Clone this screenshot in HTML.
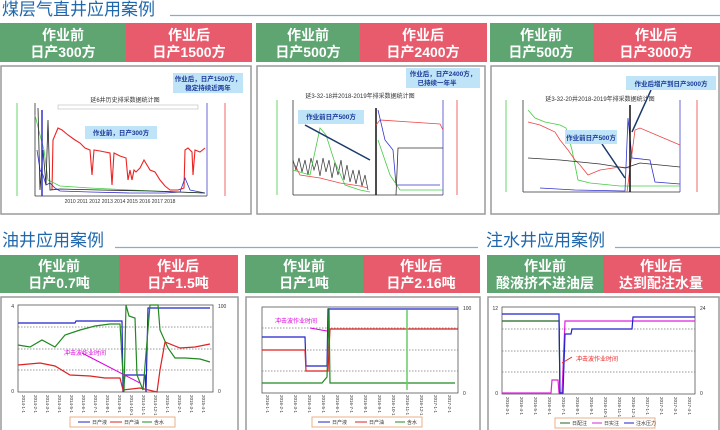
<!DOCTYPE html>
<html><head><meta charset="utf-8"><style>
html,body{margin:0;padding:0;background:#fff;width:720px;height:430px;overflow:hidden}
svg{display:block;font-family:"Liberation Sans","Noto Sans CJK SC",sans-serif}
.h{fill:#fff;font-weight:bold;font-size:14px;text-anchor:middle}
.t{fill:#1f68ad;font-size:17px}
.s{font-size:5px;fill:#333}
.cb{fill:#bfe3f7}
.ct{fill:#1a3a9a;font-size:6.5px;font-weight:bold;text-anchor:middle}
.d{font-size:4.5px;fill:#333}
</style></head><body>
<svg width="720" height="430" viewBox="0 0 720 430">
<text class="t" x="2" y="15">煤层气直井应用案例</text>
<line x1="170" y1="15.5" x2="720" y2="15.5" stroke="#7fb0d0" stroke-width="1.2"/>
<text class="t" x="2" y="246">油井应用案例</text>
<line x1="115" y1="247.5" x2="478" y2="247.5" stroke="#7fb0d0" stroke-width="1.2"/>
<text class="t" x="486" y="246">注水井应用案例</text>
<line x1="615" y1="247.5" x2="720" y2="247.5" stroke="#7fb0d0" stroke-width="1.2"/>

<rect x="0" y="23" width="126" height="39" fill="#5ea572"/><rect x="126" y="23" width="126" height="39" fill="#e85b6c"/>
<text class="h" x="63" y="40">作业前</text><text class="h" x="63" y="57">日产300方</text>
<text class="h" x="189" y="40">作业后</text><text class="h" x="189" y="57">日产1500方</text>
<rect x="256" y="23" width="104" height="39" fill="#5ea572"/><rect x="360" y="23" width="127" height="39" fill="#e85b6c"/>
<text class="h" x="308" y="40">作业前</text><text class="h" x="308" y="57">日产500方</text>
<text class="h" x="423" y="40">作业后</text><text class="h" x="423" y="57">日产2400方</text>
<rect x="490" y="23" width="103" height="39" fill="#5ea572"/><rect x="593" y="23" width="127" height="39" fill="#e85b6c"/>
<text class="h" x="541" y="40">作业前</text><text class="h" x="541" y="57">日产500方</text>
<text class="h" x="656" y="40">作业后</text><text class="h" x="656" y="57">日产3000方</text>

<rect x="0" y="255" width="119" height="38" fill="#5ea572"/><rect x="119" y="255" width="119" height="38" fill="#e85b6c"/>
<text class="h" x="59" y="271">作业前</text><text class="h" x="59" y="288">日产0.7吨</text>
<text class="h" x="178" y="271">作业后</text><text class="h" x="178" y="288">日产1.5吨</text>
<rect x="245" y="255" width="118" height="38" fill="#5ea572"/><rect x="363" y="255" width="117" height="38" fill="#e85b6c"/>
<text class="h" x="304" y="271">作业前</text><text class="h" x="304" y="288">日产1吨</text>
<text class="h" x="421" y="271">作业后</text><text class="h" x="421" y="288">日产2.16吨</text>
<rect x="487" y="255" width="116" height="38" fill="#5ea572"/><rect x="603" y="255" width="117" height="38" fill="#e85b6c"/>
<text class="h" x="545" y="271">作业前</text><text class="h" x="545" y="288">酸液挤不进油层</text>
<text class="h" x="661" y="271">作业后</text><text class="h" x="661" y="288">达到配注水量</text>

<g fill="none" stroke="#9a9a9a" stroke-width="1.5">
<rect x="1" y="66" width="250" height="148"/><rect x="257" y="66" width="228" height="148"/><rect x="491" y="66" width="228" height="148"/>
<rect x="1" y="297" width="237" height="135"/><rect x="246" y="297" width="234" height="135"/><rect x="488" y="297" width="231" height="135"/>
</g>

<!-- chart 1 -->
<text x="125" y="102" font-size="6" text-anchor="middle" fill="#333">延6井历史排采数据统计图</text>
<rect x="58" y="105" width="140" height="4" fill="none" stroke="#aaa" stroke-width="0.5"/>
<g stroke-width="0.8" fill="none">
<line x1="17" y1="103" x2="17" y2="196" stroke="#4c4"/>
<line x1="35" y1="103" x2="35" y2="196" stroke="#333"/>
<line x1="207" y1="103" x2="207" y2="196" stroke="#44c"/>
<line x1="225" y1="103" x2="225" y2="196" stroke="#e44"/>
<line x1="35" y1="196" x2="207" y2="196" stroke="#333"/>
<polyline stroke="#e22" stroke-width="1.1" points="52,190 53,140 58,128 62,130 68,135 75,140 80,143 85,148 90,150 92,175 94,150 100,151 105,152 110,153 112,185 114,153 120,156 126,158 128,180 130,170 132,180 134,170 136,172 140,168 144,160 147,165 150,170 155,172 160,180 165,186 170,190 178,190 184,188 185,150 188,148 192,152 193,175 195,150 200,152 205,148"/>
<polyline stroke="#33c" points="37,150 40,170 43,175 46,185 50,183 55,188 60,191 90,192 130,193 165,193 180,192 185,178 190,190 205,193"/>
<polyline stroke="#4c4" points="35,115 40,135 44,150 48,180 60,186 90,188 130,190 180,192 205,193"/>
<polyline stroke="#222" points="38,108 40,190 43,150 46,185 48,120 50,190 60,189 100,190 150,191 205,193"/>
<line x1="42" y1="110" x2="42" y2="196" stroke="#33c" stroke-width="1.5"/>
</g>
<rect class="cb" x="173" y="73" width="70" height="20"/>
<text class="ct" x="208" y="81">作业后，日产1500方，</text><text class="ct" x="208" y="90">稳定持续近两年</text>
<rect class="cb" x="85" y="126" width="72" height="13"/>
<text class="ct" x="121" y="135">作业前，日产300方</text>
<text x="120" y="203" class="s" text-anchor="middle" font-size="4">2010    2011    2012    2013    2014    2015    2016    2017    2018</text>

<!-- chart 2 -->
<text x="360" y="98" font-size="6" text-anchor="middle" fill="#333">延3-32-18井2018-2019年排采数据统计图</text>
<g stroke-width="0.8" fill="none">
<line x1="277" y1="100" x2="277" y2="195" stroke="#4c4"/>
<line x1="293" y1="100" x2="293" y2="195" stroke="#333"/>
<line x1="443" y1="100" x2="443" y2="195" stroke="#44c"/>
<line x1="457" y1="100" x2="457" y2="195" stroke="#e44"/>
<line x1="293" y1="195" x2="443" y2="195" stroke="#333"/>
<polyline stroke="#333" stroke-width="0.7" points="293,160 296,170 299,158 302,172 305,160 308,175 311,158 314,170 317,160 320,176 323,158 326,172 329,160 332,178 335,162 338,175 341,160 344,180 347,165 350,182 353,170 356,184 359,170 362,186 365,175 368,190"/>
<polyline stroke="#4c4" points="293,170 310,175 320,128 326,135 334,160 345,185 360,190 370,192"/>
<polyline stroke="#e44" points="295,165 300,175 320,178 340,183 360,186 368,188"/>
<line x1="376" y1="108" x2="376" y2="195" stroke="#111" stroke-width="1.5"/>
<polyline stroke="#e44" points="376,125 380,120 410,122 440,124 443,130"/>
<polyline stroke="#33c" points="378,110 385,140 393,150 396,185 440,185"/>
<polyline stroke="#4c4" points="378,140 390,175 400,190 443,190"/>
<polyline stroke="#333" points="396,195 398,148 443,148"/>
<line x1="414" y1="87" x2="420" y2="81" stroke="#1a3a6a" stroke-width="1.5"/>
<line x1="305" y1="125" x2="370" y2="160" stroke="#1a3a6a" stroke-width="1.5"/>
</g>
<rect class="cb" x="406" y="68" width="74" height="20"/>
<text class="ct" x="443" y="76">作业后，日产2400方，</text><text class="ct" x="437" y="85">已持续一年半</text>
<rect class="cb" x="298" y="110" width="66" height="14"/>
<text class="ct" x="331" y="119">作业前日产500方</text>

<!-- chart 3 -->
<text x="600" y="101" font-size="6" text-anchor="middle" fill="#333">延3-32-20井2018-2019年排采数据统计图</text>
<g stroke-width="0.8" fill="none">
<line x1="506" y1="100" x2="506" y2="192" stroke="#4c4"/>
<line x1="523" y1="100" x2="523" y2="192" stroke="#333"/>
<line x1="680" y1="100" x2="680" y2="192" stroke="#44c"/>
<line x1="697" y1="100" x2="697" y2="192" stroke="#e44"/>
<line x1="523" y1="192" x2="680" y2="192" stroke="#333"/>
<polyline stroke="#4c4" points="528,110 535,118 545,122 560,125 566,128 572,150 578,180 590,183 620,186 680,186"/>
<polyline stroke="#e44" points="528,122 540,125 555,132 560,140 568,150 575,160 580,165 588,175 600,170 620,167 630,168 627,192 635,130 640,128 680,145"/>
<polyline stroke="#333" points="528,158 560,160 600,164 625,168 640,163 680,167"/>
<polyline stroke="#33c" points="540,188 575,190 625,191 628,118 632,158 650,160 655,182 680,184"/>
<line x1="630" y1="105" x2="630" y2="192" stroke="#111" stroke-width="1.5"/>
<line x1="637" y1="90" x2="643" y2="80" stroke="#1a3a6a" stroke-width="1.5"/>
<line x1="632" y1="132" x2="651" y2="90" stroke="#1a3a6a" stroke-width="1.5"/>
<line x1="602" y1="144" x2="625" y2="178" stroke="#1a3a6a" stroke-width="1.5"/>
</g>
<rect class="cb" x="626" y="76" width="90" height="14"/>
<text class="ct" x="671" y="86">作业后增产到日产3000方</text>
<rect class="cb" x="565" y="130" width="52" height="14"/>
<text class="ct" x="591" y="140">作业前日产500方</text>

<!-- chart A -->
<g stroke-width="0.8" fill="none">
<rect x="18" y="305" width="195" height="87" stroke="#555"/>
<line x1="18" y1="327" x2="213" y2="327" stroke="#777" stroke-dasharray="1.5,1.5"/>
<line x1="18" y1="349" x2="213" y2="349" stroke="#777" stroke-dasharray="1.5,1.5"/>
<line x1="18" y1="370" x2="213" y2="370" stroke="#777" stroke-dasharray="1.5,1.5"/>
<polyline stroke="#22c" stroke-width="1.2" points="18,323 75,323 76,321 122,321 123,392 125,375 145,375 146,392 148,308 210,308"/>
<polyline stroke="#d22" stroke-width="1.2" points="18,365 40,363 55,366 70,375 90,376 105,378 120,378 123,390 140,388 157,392 160,370 165,342 180,348 195,347 210,344"/>
<polyline stroke="#282" stroke-width="1.2" points="18,345 30,347 42,340 55,347 65,335 80,330 95,326 110,324 120,324 124,392 126,305 129,316 135,318 137,375 143,390 150,305 158,305 160,330 168,348 175,358 185,358 200,359 210,362"/>
<line x1="82" y1="353" x2="140" y2="383" stroke="#d0d" stroke-width="1"/>
</g>
<text x="64" y="355" font-size="6" fill="#d0d">冲击波作业时间</text>
<text x="14" y="308" class="s" text-anchor="end">4</text><text x="14" y="393" class="s" text-anchor="end">0</text>
<text x="218" y="308" class="s">100</text><text x="218" y="393" class="s">0</text>
<g class="d">
<text transform="translate(22,395) rotate(90)">2014-1-1</text><text transform="translate(34,395) rotate(90)">2014-2-1</text>
<text transform="translate(46,395) rotate(90)">2014-3-1</text><text transform="translate(58,395) rotate(90)">2014-4-1</text>
<text transform="translate(70,395) rotate(90)">2014-5-1</text><text transform="translate(82,395) rotate(90)">2014-6-1</text>
<text transform="translate(94,395) rotate(90)">2014-7-1</text><text transform="translate(106,395) rotate(90)">2014-8-1</text>
<text transform="translate(118,395) rotate(90)">2014-9-1</text><text transform="translate(130,395) rotate(90)">2014-10-1</text>
<text transform="translate(142,395) rotate(90)">2014-11-1</text><text transform="translate(154,395) rotate(90)">2014-12-1</text>
<text transform="translate(166,395) rotate(90)">2015-1-1</text><text transform="translate(178,395) rotate(90)">2015-2-1</text>
<text transform="translate(190,395) rotate(90)">2015-3-1</text><text transform="translate(202,395) rotate(90)">2015-4-1</text>
</g>
<rect x="70" y="417" width="105" height="10" fill="none" stroke="#e9b08a"/>
<line x1="78" y1="422" x2="90" y2="422" stroke="#22c"/><line x1="110" y1="422" x2="122" y2="422" stroke="#d22"/><line x1="142" y1="422" x2="152" y2="422" stroke="#282"/>
<text x="92" y="424" class="s">日产液</text><text x="124" y="424" class="s">日产油</text><text x="154" y="424" class="s">含水</text>

<!-- chart B -->
<g stroke-width="0.8" fill="none">
<rect x="262" y="307" width="196" height="86" stroke="#555"/>
<line x1="262" y1="328" x2="458" y2="328" stroke="#777" stroke-dasharray="1.5,1.5"/>
<line x1="262" y1="350" x2="458" y2="350" stroke="#777" stroke-dasharray="1.5,1.5"/>
<line x1="262" y1="371" x2="458" y2="371" stroke="#777" stroke-dasharray="1.5,1.5"/>
<polyline stroke="#22c" stroke-width="1.2" points="262,337 305,337 306,366 327,366 328,309 458,309"/>
<polyline stroke="#d22" stroke-width="1.2" points="262,350 305,350 306,371 328,371 330,329 458,329"/>
<polyline stroke="#282" stroke-width="1.2" points="262,383 322,383 327,377 329,308 330,383 455,383"/>
<line x1="407" y1="310" x2="407" y2="390" stroke="#6c6" stroke-width="1.5"/>
<line x1="310" y1="328" x2="327" y2="331" stroke="#d0d" stroke-width="1"/>
</g>
<text x="275" y="323" font-size="6" fill="#d0d">冲击波作业时间</text>
<g class="d">
<text transform="translate(266,395) rotate(90)">2016-1-1</text><text transform="translate(280,395) rotate(90)">2016-2-1</text>
<text transform="translate(294,395) rotate(90)">2016-3-1</text><text transform="translate(308,395) rotate(90)">2016-4-1</text>
<text transform="translate(322,395) rotate(90)">2016-5-1</text><text transform="translate(336,395) rotate(90)">2016-6-1</text>
<text transform="translate(350,395) rotate(90)">2016-7-1</text><text transform="translate(364,395) rotate(90)">2016-8-1</text>
<text transform="translate(378,395) rotate(90)">2016-9-1</text><text transform="translate(392,395) rotate(90)">2016-10-1</text>
<text transform="translate(406,395) rotate(90)">2016-11-1</text><text transform="translate(420,395) rotate(90)">2016-12-1</text>
<text transform="translate(434,395) rotate(90)">2017-1-1</text><text transform="translate(448,395) rotate(90)">2017-2-1</text>
</g>
<rect x="312" y="417" width="110" height="10" fill="none" stroke="#e9b08a"/>
<line x1="318" y1="422" x2="330" y2="422" stroke="#22c"/><line x1="355" y1="422" x2="367" y2="422" stroke="#d22"/><line x1="395" y1="422" x2="405" y2="422" stroke="#282"/>
<text x="332" y="424" class="s">日产液</text><text x="369" y="424" class="s">日产油</text><text x="407" y="424" class="s">含水</text>
<text x="463" y="310" class="s">100</text><text x="463" y="395" class="s">0</text>

<!-- chart C -->
<g stroke-width="0.8" fill="none">
<rect x="502" y="307" width="193" height="87" stroke="#555"/>
<line x1="502" y1="329" x2="695" y2="329" stroke="#777" stroke-dasharray="1.5,1.5"/>
<line x1="502" y1="351" x2="695" y2="351" stroke="#777" stroke-dasharray="1.5,1.5"/>
<line x1="502" y1="372" x2="695" y2="372" stroke="#777" stroke-dasharray="1.5,1.5"/>
<polyline stroke="#262" stroke-width="1.2" points="502,321 559,321 560,394"/>
<polyline stroke="#d2d" stroke-width="1.2" points="502,393 551,393 552,380 558,380 559,393 562,393 565,321 695,321"/>
<polyline stroke="#22c" stroke-width="1.2" points="502,314 559,314 560,393 563,393 565,334 571,334 572,329 632,329 633,317 695,317"/>
<line x1="562" y1="363" x2="572" y2="357" stroke="#e22" stroke-width="1"/>
</g>
<text x="576" y="361" font-size="6" fill="#e22">冲击波作业时间</text>
<text x="498" y="310" class="s" text-anchor="end">12</text><text x="498" y="395" class="s" text-anchor="end">0</text>
<text x="700" y="310" class="s">24</text><text x="700" y="395" class="s">0</text>
<g class="d">
<text transform="translate(506,397) rotate(90)">2016-3-1</text><text transform="translate(520,397) rotate(90)">2016-4-1</text>
<text transform="translate(534,397) rotate(90)">2016-5-1</text><text transform="translate(548,397) rotate(90)">2016-6-1</text>
<text transform="translate(562,397) rotate(90)">2016-7-1</text><text transform="translate(576,397) rotate(90)">2016-8-1</text>
<text transform="translate(590,397) rotate(90)">2016-9-1</text><text transform="translate(604,397) rotate(90)">2016-10-1</text>
<text transform="translate(618,397) rotate(90)">2016-11-1</text><text transform="translate(632,397) rotate(90)">2016-12-1</text>
<text transform="translate(646,397) rotate(90)">2017-1-1</text><text transform="translate(660,397) rotate(90)">2017-2-1</text>
<text transform="translate(674,397) rotate(90)">2017-3-1</text><text transform="translate(688,397) rotate(90)">2017-4-1</text>
</g>
<rect x="555" y="418" width="100" height="10" fill="none" stroke="#e9b08a"/>
<line x1="560" y1="423" x2="570" y2="423" stroke="#262"/><line x1="592" y1="423" x2="602" y2="423" stroke="#d2d"/><line x1="624" y1="423" x2="634" y2="423" stroke="#22c"/>
<text x="572" y="425" class="s">日配注</text><text x="604" y="425" class="s">日实注</text><text x="636" y="425" class="s">注水压力</text>
</svg>
</body></html>
